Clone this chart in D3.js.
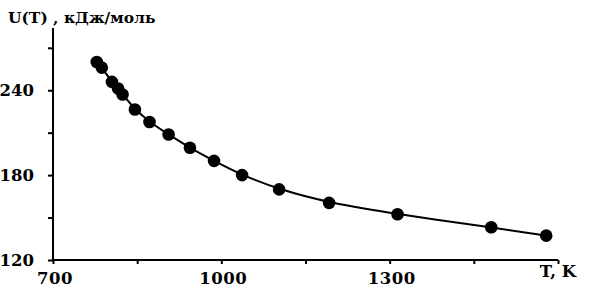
<!DOCTYPE html>
<html>
<head>
<meta charset="utf-8">
<script src="https://cdn.jsdelivr.net/npm/d3@7"></script>
<style>
  body { margin: 0; background: #fff; }
  text { font-family: "DejaVu Serif", "Liberation Serif", serif; font-weight: bold; }
</style>
</head>
<body>
<div id="graphContainer"></div>
<script>
// temperature, K
const temps = [778, 787, 805, 816, 824, 846, 872, 906, 944, 987, 1037, 1103, 1192, 1314, 1481, 1579];
// U(T), kJ/mol
const energies = [260.0, 256.0, 245.9, 241.2, 237.0, 226.4, 217.6, 208.7, 199.3, 190.1, 180.0, 169.9, 160.4, 152.3, 143.1, 137.2];

const xTicks = [700, 850, 1000, 1150, 1300, 1450, 1600];
const xLabels = { 700: "700", 1000: "1000", 1300: "1300", 1600: "T, K" };
const yTicks = [120, 150, 180, 210, 240, 270];
const yLabels = { 120: "120", 180: "180", 240: "240" };

const W = 591, H = 290;
const margin = { top: 28, right: 33, bottom: 30, left: 53 };

const svg = d3.select("#graphContainer").append("svg")
    .attr("width", W)
    .attr("height", H);

const x = d3.scaleLinear().domain([700, 1600]).range([margin.left, W - margin.right]);
const y = d3.scaleLinear().domain([120, 284]).range([H - margin.bottom, margin.top]);

const data = temps.map((t, i) => ({ t, u: energies[i] }));

// axes
const xAxis = svg.append("g")
    .attr("transform", `translate(0,${H - margin.bottom})`)
    .call(d3.axisBottom(x).tickValues(xTicks).tickSize(4).tickFormat(""));

const yAxis = svg.append("g")
    .attr("transform", `translate(${margin.left},0)`)
    .call(d3.axisLeft(y).tickValues(yTicks).tickSize(5).tickFormat(""));

svg.selectAll(".domain")
    .attr("stroke", "#000")
    .attr("stroke-width", 2);
svg.selectAll(".tick line")
    .attr("stroke", "#000")
    .attr("stroke-width", 2);
yAxis.select(".domain").attr("d", `M0,${y(120)}V${margin.top}`);
xAxis.select(".domain").attr("d", `M${x(700)},0H${x(1600)}`);

// tick labels
svg.selectAll(".xlab")
    .data(xTicks.filter(d => xLabels[d] && d !== 1600))
    .enter().append("text")
    .attr("x", d => x(d) + 2)
    .attr("y", H - margin.bottom + 24)
    .attr("text-anchor", "middle")
    .style("font-size", "16.5px")
    .style("letter-spacing", "0.5px")
    .text(d => xLabels[d]);

svg.append("text")
    .attr("x", x(1600))
    .attr("y", H - margin.bottom + 17)
    .attr("text-anchor", "middle")
    .style("font-size", "16.5px")
    .text(xLabels[1600]);

svg.selectAll(".ylab")
    .data(yTicks.filter(d => yLabels[d]))
    .enter().append("text")
    .attr("x", 34)
    .attr("y", d => y(d))
    .attr("dy", "0.36em")
    .attr("text-anchor", "end")
    .style("font-size", "16.5px")
    .text(d => yLabels[d]);

svg.append("text")
    .attr("x", 8)
    .attr("y", 23)
    .style("font-size", "15.5px")
    .text("U(T) , кДж/моль");

// curve
const line = d3.line()
    .x(d => x(d.t))
    .y(d => y(d.u))
    .curve(d3.curveBasis);

svg.append("path")
    .datum(data)
    .attr("fill", "none")
    .attr("stroke", "#000")
    .attr("stroke-width", 2)
    .attr("d", line);

svg.selectAll("circle")
    .data(data)
    .enter().append("circle")
    .attr("cx", d => x(d.t))
    .attr("cy", d => y(d.u))
    .attr("r", 6.3)
    .attr("fill", "#000");
</script>
</body>
</html>
